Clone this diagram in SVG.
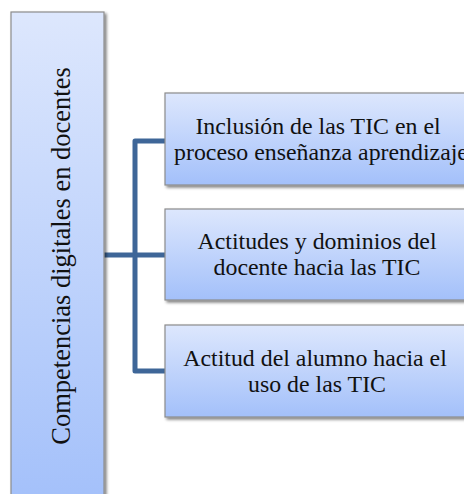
<svg xmlns="http://www.w3.org/2000/svg" width="464" height="494" viewBox="0 0 464 494">
  <defs>
    <linearGradient id="g" x1="0" y1="0" x2="0" y2="1">
      <stop offset="0" stop-color="#dde7fd"/>
      <stop offset="1" stop-color="#a3c0fa"/>
    </linearGradient>
    <filter id="sh" x="-10%" y="-10%" width="130%" height="130%">
      <feGaussianBlur in="SourceAlpha" stdDeviation="1.5"/>
      <feOffset dx="1.5" dy="2" result="b"/>
      <feComponentTransfer><feFuncA type="linear" slope="0.5"/></feComponentTransfer>
      <feMerge><feMergeNode/><feMergeNode in="SourceGraphic"/></feMerge>
    </filter>
  </defs>
  <style>
    .box { fill: url(#g); stroke: #8c8c8c; stroke-width: 1.2; filter: url(#sh); }
    .t { font-family: 'Liberation Serif', 'Times New Roman', Times, serif; font-size: 26.5px; fill: #111; text-anchor: middle; }
    .c { fill: none; stroke: #3e6698; stroke-width: 5; stroke-linejoin: round; }
  </style>
  <rect width="464" height="494" fill="#ffffff"/>
  <g id="connectors">
    <path class="c" d="M165,141 H135 V371 H165"/>
    <path class="c" d="M104,255 H165"/>
  </g>
  <g id="root">
    <rect class="box" x="11" y="12" width="93" height="495"/>
    <text class="t" transform="translate(70,256) rotate(-90)">Competencias digitales en docentes</text>
  </g>
  <g id="n1">
    <rect class="box" x="165" y="93" width="310" height="92"/>
    <text class="t" transform="translate(318,134) rotate(-90) rotate(90) scale(0.9)">Inclusión de las TIC en el</text>
    <text class="t" transform="translate(321,160) rotate(-90) rotate(90) scale(0.9)">proceso enseñanza aprendizaje</text>
  </g>
  <g id="n2">
    <rect class="box" x="165" y="209" width="310" height="91"/>
    <text class="t" transform="translate(317,249) rotate(-90) rotate(90) scale(0.9)">Actitudes y dominios del</text>
    <text class="t" transform="translate(317,275) rotate(-90) rotate(90) scale(0.9)">docente hacia las TIC</text>
  </g>
  <g id="n3">
    <rect class="box" x="165" y="325" width="310" height="92"/>
    <text class="t" transform="translate(315,366) rotate(-90) rotate(90) scale(0.9)">Actitud del alumno hacia el</text>
    <text class="t" transform="translate(317,392) rotate(-90) rotate(90) scale(0.9)">uso de las TIC</text>
  </g>
</svg>
